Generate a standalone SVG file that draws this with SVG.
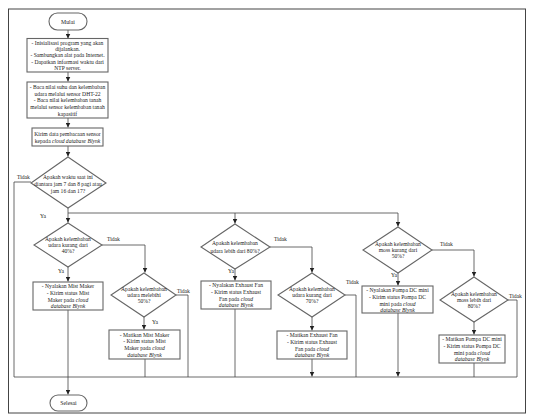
<svg xmlns="http://www.w3.org/2000/svg" width="546" height="420" viewBox="0 0 546 420">
<style>
text{font-family:"Liberation Serif","Times New Roman",serif;font-size:5.6px;fill:#222;text-anchor:middle}
.i{font-style:italic}
.shape{fill:#fff;stroke:#666;stroke-width:1.1}
.ln{fill:none;stroke:#444;stroke-width:0.8}
.lbl{text-anchor:start}
</style>
<defs>
<marker id="ah" viewBox="0 0 6 6" refX="6" refY="3" markerWidth="5" markerHeight="5" orient="auto" markerUnits="userSpaceOnUse">
<path d="M0,0 L6,3 L0,6 z" fill="#222"/>
</marker>
</defs>
<rect x="8.5" y="9" width="517" height="404" fill="#fff" stroke="#444" stroke-width="1"/>

<g id="connectors" class="ln">
<line x1="68" y1="30" x2="68" y2="38.5" marker-end="url(#ah)"/>
<line x1="68" y1="72" x2="68" y2="81.5" marker-end="url(#ah)"/>
<line x1="68" y1="118" x2="68" y2="127.5" marker-end="url(#ah)"/>
<line x1="68" y1="146" x2="68" y2="156.5" marker-end="url(#ah)"/>
<line x1="68" y1="208" x2="68" y2="222.5" marker-end="url(#ah)"/>
<polyline points="68,213 398,213 398,226.5" marker-end="url(#ah)"/>
<line x1="235" y1="213" x2="235" y2="223.5" marker-end="url(#ah)"/>
<polyline points="31,182 14,182 14,377 517,377"/>
<line x1="68" y1="267" x2="68" y2="281.5" marker-end="url(#ah)"/>
<polyline points="102,245 145,245 145,272.5" marker-end="url(#ah)"/>
<line x1="144" y1="317" x2="144" y2="329.5" marker-end="url(#ah)"/>
<polyline points="176,295 188,295 188,377"/>
<line x1="145" y1="359" x2="145" y2="377"/>
<line x1="68" y1="310" x2="68" y2="394.5" marker-end="url(#ah)"/>
<line x1="235" y1="269" x2="235" y2="280.5" marker-end="url(#ah)"/>
<polyline points="270,247 312,247 312,272.5" marker-end="url(#ah)"/>
<line x1="235" y1="309" x2="235" y2="377"/>
<line x1="312" y1="317" x2="312" y2="330.5" marker-end="url(#ah)"/>
<polyline points="345,295 356,295 356,377"/>
<line x1="312" y1="359" x2="312" y2="376.5" marker-end="url(#ah)"/>
<line x1="398" y1="273" x2="398" y2="285.5" marker-end="url(#ah)"/>
<polyline points="432,250 474,250 474,276.5" marker-end="url(#ah)"/>
<line x1="398" y1="313" x2="398" y2="376.5" marker-end="url(#ah)"/>
<line x1="474" y1="322" x2="474" y2="334.5" marker-end="url(#ah)"/>
<polyline points="508,300 517,300 517,377"/>
<line x1="474" y1="363" x2="474" y2="377"/>
</g>

<g id="labels">
<text class="lbl" x="17" y="179">Tidak</text>
<text class="lbl" x="40" y="218">Ya</text>
<text class="lbl" x="107" y="241">Tidak</text>
<text class="lbl" x="58" y="273">Ya</text>
<text class="lbl" x="177" y="293">Tidak</text>
<text class="lbl" x="152" y="324">Ya</text>
<text class="lbl" x="274" y="241">Tidak</text>
<text class="lbl" x="228" y="273">Ya</text>
<text class="lbl" x="346" y="284">Tidak</text>
<text class="lbl" x="440" y="246">Tidak</text>
<text class="lbl" x="391" y="277">Ya</text>
<text class="lbl" x="509" y="298">Tidak</text>
</g>

<g id="mulai">
<rect class="shape" x="49" y="13" width="38" height="17" rx="8.5"/>
<text x="68" y="23.5" style="font-size:5.8px">Mulai</text>
</g>

<g id="init">
<rect class="shape" x="27" y="38.5" width="81" height="33.5"/>
<text x="67.5" y="44.8">- Inisialisasi program yang akan</text>
<text x="67.5" y="51">dijalankan.</text>
<text x="67.5" y="57.3">- Sambungkan alat pada Internet.</text>
<text x="67.5" y="63.6">- Dapatkan informasi waktu dari</text>
<text x="67.5" y="69.9">NTP server.</text>
</g>

<g id="baca">
<rect class="shape" x="27" y="82" width="81" height="36"/>
<text x="67.5" y="89">- Baca nilai suhu dan kelembaban</text>
<text x="67.5" y="95.7">udara melalui sensor DHT-22</text>
<text x="67.5" y="102.4">- Baca nilai kelembaban tanah</text>
<text x="67.5" y="109.1">melalui sensor kelembaban tanah</text>
<text x="67.5" y="115.8">kapasitif</text>
</g>

<g id="kirim">
<rect class="shape" x="32" y="128" width="71" height="18"/>
<text x="67.5" y="135.8">Kirim data pembacaan sensor</text>
<text x="67.5" y="142.8">kepada <tspan class="i">cloud database Blynk</tspan></text>
</g>

<g id="d-waktu">
<polygon class="shape" points="68,157 106,183 68,208 31,183"/>
<text x="68" y="178.5">Apakah waktu saat ini</text>
<text x="68" y="185.5">diantara jam 7 dan 8 pagi atau</text>
<text x="68" y="192.5">jam 16 dan 17?</text>
</g>

<g id="d-udara40">
<polygon class="shape" points="68,223 102,245 68,267 34,245"/>
<text x="68" y="240.8">Apakah kelembaban</text>
<text x="68" y="246.8">udara kurang dari</text>
<text x="68" y="252.8">40%?</text>
</g>

<g id="nyala-mist">
<rect class="shape" x="33" y="282" width="70" height="28"/>
<text x="68" y="288.3">- Nyalakan Mist Maker</text>
<text x="68" y="294.9">- Kirim status Mist</text>
<text x="68" y="301.5">Maker pada <tspan class="i">cloud</tspan></text>
<text x="68" y="308" class="i">database Blynk</text>
</g>

<g id="d-udara50">
<polygon class="shape" points="144,273 176,295 144,317 111,295"/>
<text x="144" y="290.8">Apakah kelembaban</text>
<text x="144" y="296.8">udara melebihi</text>
<text x="144" y="302.8">50%?</text>
</g>

<g id="mati-mist">
<rect class="shape" x="109" y="330" width="71" height="29"/>
<text x="144.5" y="336.8">- Matikan Mist Maker</text>
<text x="144.5" y="343.4">- Kirim status Mist</text>
<text x="144.5" y="350">Maker pada <tspan class="i">cloud</tspan></text>
<text x="144.5" y="356.6" class="i">database Blynk</text>
</g>

<g id="d-udara80">
<polygon class="shape" points="235,224 270,247 235,269 201,247"/>
<text x="235" y="245">Apakah kelembaban</text>
<text x="235" y="252.5">udara lebih dari 80%?</text>
</g>

<g id="nyala-fan">
<rect class="shape" x="201" y="281" width="70" height="28"/>
<text x="236" y="287.3">- Nyalakan Exhaust Fan</text>
<text x="236" y="293.9">- Kirim status Exhaust</text>
<text x="236" y="300.5">Fan pada <tspan class="i">cloud</tspan></text>
<text x="236" y="307" class="i">database Blynk</text>
</g>

<g id="d-udara70">
<polygon class="shape" points="312,273 345,295 312,317 278,295"/>
<text x="312" y="290.8">Apakah kelembaban</text>
<text x="312" y="296.8">udara kurang dari</text>
<text x="312" y="302.8">70%?</text>
</g>

<g id="mati-fan">
<rect class="shape" x="277" y="331" width="70" height="28"/>
<text x="312" y="337.3">- Matikan Exhaust Fan</text>
<text x="312" y="343.9">- Kirim status Exhaust</text>
<text x="312" y="350.5">Fan pada <tspan class="i">cloud</tspan></text>
<text x="312" y="357" class="i">database Blynk</text>
</g>

<g id="d-moss50">
<polygon class="shape" points="398,227 432,250 398,273 363,250"/>
<text x="398" y="245.8">Apakah kelembaban</text>
<text x="398" y="251.8">moss kurang dari</text>
<text x="398" y="257.8">50%?</text>
</g>

<g id="nyala-pompa">
<rect class="shape" x="362" y="286" width="71" height="27"/>
<text x="397.5" y="292.3">- Nyalakan Pompa DC mini</text>
<text x="397.5" y="298.9">- Kirim status Pompa DC</text>
<text x="397.5" y="305.5">mini pada <tspan class="i">cloud</tspan></text>
<text x="397.5" y="312" class="i">database Blynk</text>
</g>

<g id="d-moss80">
<polygon class="shape" points="474,277 508,300 474,322 440,300"/>
<text x="474" y="295.8">Apakah kelembaban</text>
<text x="474" y="301.8">moss lebih dari</text>
<text x="474" y="307.8">80%?</text>
</g>

<g id="mati-pompa">
<rect class="shape" x="439" y="335" width="66" height="28"/>
<text x="472" y="341.3">- Matikan Pompa DC mini</text>
<text x="472" y="347.9">- Kirim status Pompa DC</text>
<text x="472" y="354.5">mini pada <tspan class="i">cloud</tspan></text>
<text x="472" y="361" class="i">database Blynk</text>
</g>

<g id="selesai">
<rect class="shape" x="50" y="395" width="37" height="16" rx="8"/>
<text x="68.5" y="404.8" style="font-size:5.8px">Selesai</text>
</g>
</svg>
